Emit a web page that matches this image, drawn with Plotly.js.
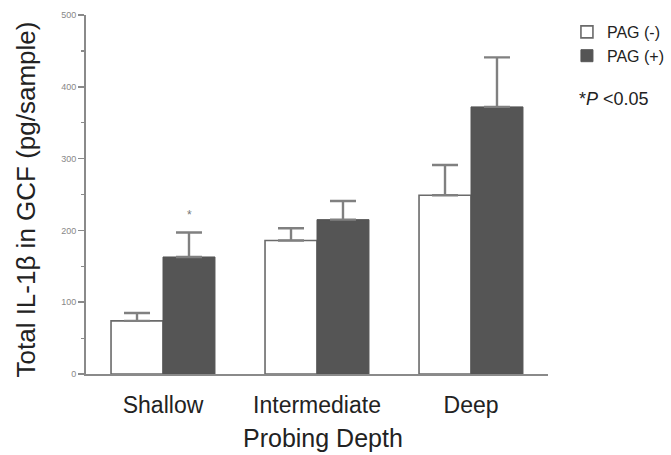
<!DOCTYPE html>
<html>
<head>
<meta charset="utf-8">
<script src="https://cdn.plot.ly/plotly-3.0.1.min.js"></script>
<style>html,body{margin:0;padding:0;background:#fff;}#chart{width:671px;height:455px;}</style>
</head>
<body>
<div id="chart"></div>
<script>
const categories = ["Shallow", "Intermediate", "Deep"];
const pagNeg = [74, 186, 249];
const pagNegErr = [11, 17, 42];
const pagPos = [163, 215, 372];
const pagPosErr = [34, 26, 69];
const yTicks = [0, 100, 200, 300, 400, 500];
const seriesNames = ["PAG (-)", "PAG (+)"];

const FONT = "Liberation Sans, Arial, Helvetica, sans-serif";
const zeros = categories.map(() => 0);

const traces = [
  {
    type: "bar", name: seriesNames[0], x: categories, y: pagNeg,
    marker: { color: "#ffffff", line: { color: "#6a6a6a", width: 1.6 } },
    error_y: { type: "data", array: pagNegErr, arrayminus: zeros, symmetric: false, color: "#808080", thickness: 2.4, width: 13 }
  },
  {
    type: "bar", name: seriesNames[1], x: categories, y: pagPos,
    marker: { color: "#555555", line: { color: "#555555", width: 1 } },
    error_y: { type: "data", array: pagPosErr, arrayminus: zeros, symmetric: false, color: "#808080", thickness: 2.4, width: 13 }
  }
];

const layout = {
  width: 671, height: 455,
  margin: { l: 86, r: 123, t: 15, b: 81, pad: 0, autoexpand: false },
  paper_bgcolor: "#ffffff", plot_bgcolor: "#ffffff",
  font: { family: FONT, color: "#222" },
  barmode: "group", bargap: 0.325, bargroupgap: 0,
  showlegend: true,
  legend: {
    x: 1.041, xref: "paper", xanchor: "left", y: 1.0, yanchor: "top",
    font: { size: 16, color: "#222", family: FONT },
    bgcolor: "rgba(0,0,0,0)", itemwidth: 30, tracegroupgap: 0
  },
  xaxis: {
    type: "category", range: [-0.5, 2.5],
    showline: true, linecolor: "#8a8a8a", linewidth: 2,
    ticks: "", showgrid: false, zeroline: false,
    ticklabelstandoff: 9,
    tickfont: { size: 23, color: "#222", family: FONT },
    title: { text: "" }
  },
  yaxis: {
    range: [0, 500], tickvals: yTicks, ticktext: yTicks.map(String),
    showline: true, linecolor: "#8a8a8a", linewidth: 2,
    ticks: "outside", ticklen: 6, tickwidth: 1.5, tickcolor: "#8a8a8a",
    minor: { dtick: 50, ticks: "outside", ticklen: 3, tickcolor: "#8a8a8a", tickwidth: 1.2 },
    showgrid: false, zeroline: false,
    tickfont: { size: 9, color: "#888", family: FONT },
    title: { text: "" }
  },
  annotations: [
    {
      text: "Total IL-1β in GCF (pg/sample)", textangle: -90,
      xref: "paper", yref: "paper", x: 0, y: 0.5, xanchor: "center", yanchor: "middle",
      xshift: -61, yshift: -5, showarrow: false,
      font: { size: 26, color: "#222", family: FONT }
    },
    {
      text: "Probing Depth",
      xref: "paper", yref: "paper", x: 0.5, y: 0, xanchor: "center", yanchor: "middle",
      xshift: 6, yshift: -64, showarrow: false,
      font: { size: 25, color: "#222", family: FONT }
    },
    {
      text: "*", xref: "x", yref: "y", x: categories[0], y: pagPos[0] + pagPosErr[0] + 25,
      xshift: 26, showarrow: false, font: { size: 12, color: "#777", family: FONT }
    },
    {
      text: "*<i>P</i> <0.05", xref: "paper", yref: "paper", x: 1.062, y: 0.765,
      xanchor: "left", yanchor: "middle", showarrow: false,
      font: { size: 18, color: "#222", family: FONT }
    }
  ]
};

Plotly.newPlot("chart", traces, layout, { displayModeBar: false, staticPlot: true });
</script>
</body>
</html>
